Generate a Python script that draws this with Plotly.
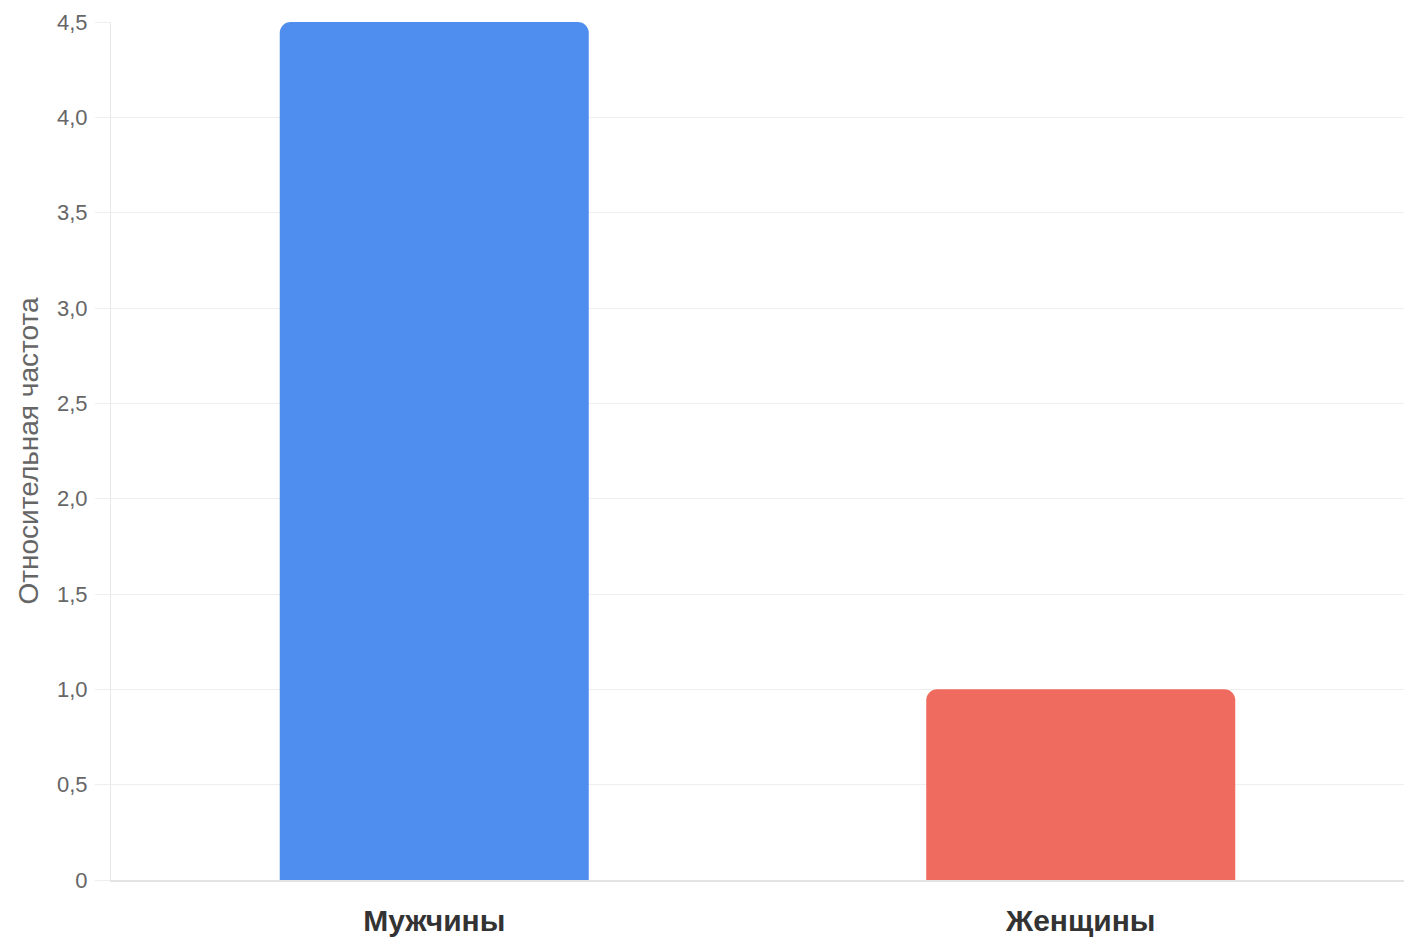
import plotly.graph_objects as go

# Relative frequency by sex
categories = ["Мужчины", "Женщины"]
values = [4.5, 1.0]
bar_colors = ["#4f8eee", "#ef6b5f"]

y_tickvals = [0, 0.5, 1.0, 1.5, 2.0, 2.5, 3.0, 3.5, 4.0, 4.5]
y_ticktext = ["0", "0,5", "1,0", "1,5", "2,0", "2,5", "3,0", "3,5", "4,0", "4,5"]

fig = go.Figure(
    go.Bar(
        x=categories,
        y=values,
        width=0.478,
        marker=dict(color=bar_colors, cornerradius=11, line=dict(width=0)),
        hoverinfo="x+y",
    )
)

fig.update_layout(
    width=1404,
    height=938,
    margin=dict(l=111, r=0, t=22, b=58),
    paper_bgcolor="white",
    plot_bgcolor="white",
    showlegend=False,
    font=dict(family="Liberation Sans, Arial, sans-serif"),
)

fig.update_xaxes(
    range=[-0.5, 1.5],
    showgrid=False,
    showline=True,
    linecolor="#e3e3e3",
    linewidth=2,
    ticks="",
    ticklabelstandoff=13,
    tickfont=dict(size=30, color="#333333", family="Liberation Sans, Arial, sans-serif", weight="bold"),
)

fig.update_yaxes(
    range=[0, 4.5],
    tickvals=y_tickvals,
    ticktext=y_ticktext,
    showgrid=True,
    gridcolor="#eeeeee",
    gridwidth=1,
    showline=True,
    linecolor="#e8e8e8",
    linewidth=1,
    ticks="outside",
    ticklen=15,
    tickcolor="#eeeeee",
    ticklabelstandoff=3,
    tickfont=dict(size=22, color="#666666"),
    zeroline=False,
    title=dict(text="Относительная частота", font=dict(size=28, color="#666666"), standoff=10),
)

fig.write_html("out.html")
